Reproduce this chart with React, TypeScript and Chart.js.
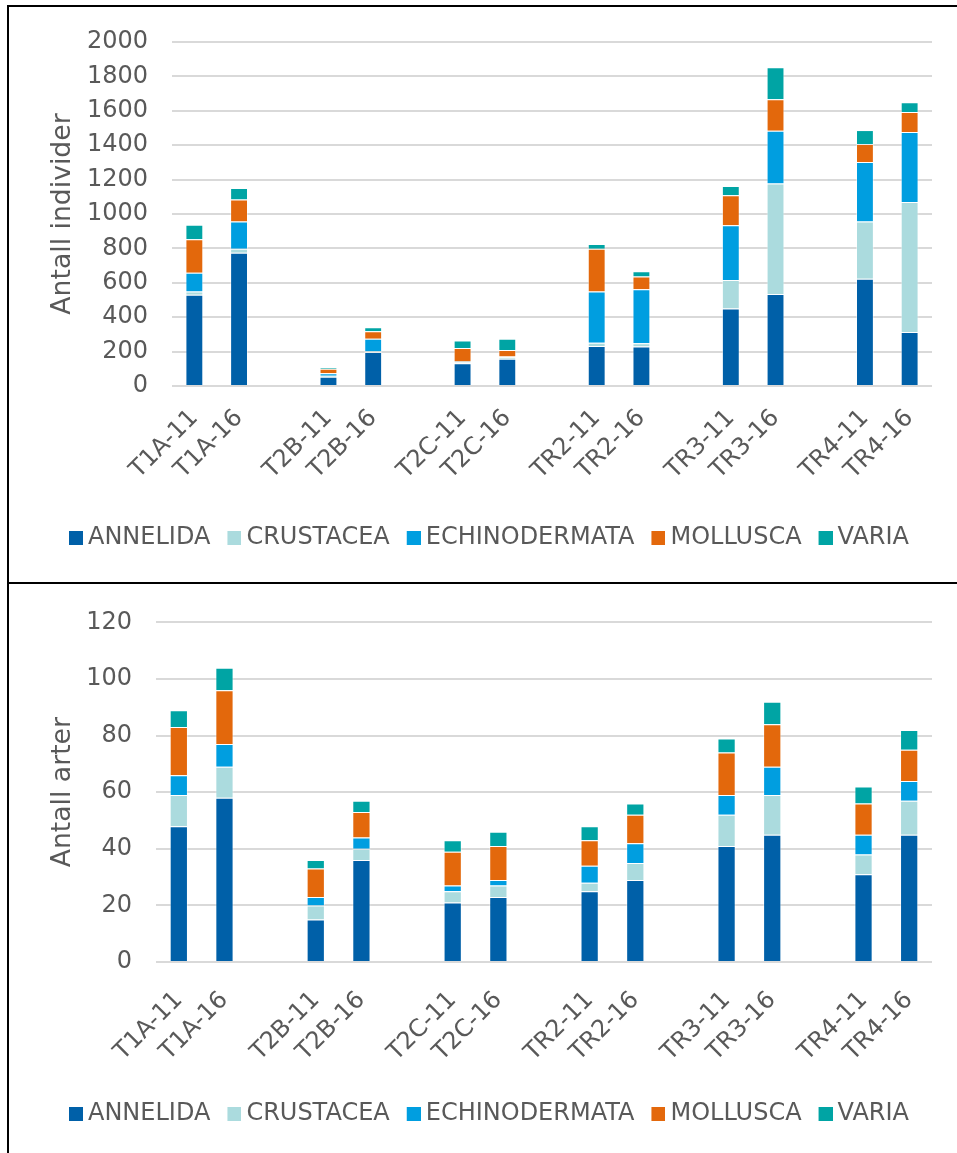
import React, { useEffect, useRef } from 'react';
import { Chart, registerables } from 'chart.js';

Chart.register(...registerables);

const FONT = "'DejaVu Sans', Verdana, sans-serif";
const TEXT_COLOR = '#595959';

const categories = [
  'T1A-11', 'T1A-16', '',
  'T2B-11', 'T2B-16', '',
  'T2C-11', 'T2C-16', '',
  'TR2-11', 'TR2-16', '',
  'TR3-11', 'TR3-16', '',
  'TR4-11', 'TR4-16',
];

const seriesNames = ['ANNELIDA', 'CRUSTACEA', 'ECHINODERMATA', 'MOLLUSCA', 'VARIA'];
const seriesColors = ['#0060A8', '#ABDBDE', '#009EE0', '#E3680C', '#00A4A4'];

// Antall individer
const indAnnelida = [531, 775, null, 54, 198, null, 132, 159, null, 233, 229, null, 450, 535, null, 624, 314];
const indCrustacea = [19, 23, null, 6, 4, null, 7, 8, null, 19, 19, null, 166, 643, null, 333, 756];
const indEchinodermata = [109, 159, null, 14, 73, null, 4, 4, null, 298, 314, null, 318, 306, null, 345, 407];
const indMollusca = [194, 128, null, 27, 43, null, 78, 38, null, 248, 74, null, 175, 183, null, 105, 116];
const indVaria = [85, 66, null, 8, 23, null, 43, 66, null, 28, 31, null, 54, 186, null, 81, 56];

// Antall arter
const artAnnelida = [48, 58, null, 15, 36, null, 21, 23, null, 25, 29, null, 41, 45, null, 31, 45];
const artCrustacea = [11, 11, null, 5, 4, null, 4, 4, null, 3, 6, null, 11, 14, null, 7, 12];
const artEchinodermata = [7, 8, null, 3, 4, null, 2, 2, null, 6, 7, null, 7, 10, null, 7, 7];
const artMollusca = [17, 19, null, 10, 9, null, 12, 12, null, 9, 10, null, 15, 15, null, 11, 11];
const artVaria = [6, 8, null, 3, 4, null, 4, 5, null, 5, 4, null, 5, 8, null, 6, 7];

const indTitle = 'Antall individer';
const indMax = 2000;
const indStep = 200;

const artTitle = 'Antall arter';
const artMax = 120;
const artStep = 20;

function makeSwatch(color: string) {
  const c = document.createElement('canvas');
  c.width = 21;
  c.height = 14;
  const g = c.getContext('2d');
  if (g) {
    g.fillStyle = color;
    g.fillRect(7, 0, 14, 14);
  }
  return c;
}

function buildConfig(
  values: (number | null)[][],
  yMax: number,
  yStep: number,
  yTitle: string,
  layout: { padLeft: number; padTop: number; padBottom: number; yWidth: number; xPad: number; xHeight: number },
) {
  const swatches = seriesColors.map(makeSwatch);
  return {
    type: 'bar' as const,
    data: {
      labels: categories,
      datasets: seriesNames.map((name, i) => ({
        label: name,
        data: values[i],
        backgroundColor: seriesColors[i],
        borderColor: 'rgba(255,255,255,0.45)',
        borderWidth: 1,
        barPercentage: 0.4,
        categoryPercentage: 1,
      })),
    },
    options: {
      responsive: false,
      animation: false,
      events: [],
      layout: {
        padding: { left: layout.padLeft, right: 25, top: layout.padTop, bottom: layout.padBottom },
      },
      plugins: {
        tooltip: { enabled: false },
        legend: {
          position: 'bottom',
          labels: {
            usePointStyle: true,
            pointStyleWidth: 7,
            padding: 17,
            color: TEXT_COLOR,
            font: { size: 24, family: FONT },
            generateLabels: () =>
              seriesNames.map((n, i) => ({
                text: n,
                pointStyle: swatches[i],
                fillStyle: seriesColors[i],
                strokeStyle: seriesColors[i],
                lineWidth: 0,
                hidden: false,
                datasetIndex: i,
                fontColor: TEXT_COLOR,
              })),
          },
        },
      },
      scales: {
        x: {
          stacked: true,
          grid: { display: false },
          border: { display: false },
          ticks: {
            autoSkip: false,
            minRotation: 45,
            maxRotation: 45,
            padding: layout.xPad,
            color: TEXT_COLOR,
            font: { size: 24, family: FONT },
          },
          afterFit: (s: any) => {
            s.height = layout.xHeight;
          },
        },
        y: {
          stacked: true,
          min: 0,
          max: yMax,
          ticks: {
            stepSize: yStep,
            padding: 24,
            color: TEXT_COLOR,
            font: { size: 24, family: FONT },
            callback: (v: any) => String(v),
          },
          grid: { color: '#d9d9d9', lineWidth: 2, drawTicks: false },
          border: { display: false },
          title: {
            display: true,
            text: yTitle,
            color: TEXT_COLOR,
            font: { size: 26.67, family: FONT, lineHeight: 0.6 },
            padding: { top: 9, bottom: 0 },
          },
          afterFit: (s: any) => {
            s.width = layout.yWidth;
          },
        },
      },
    },
  };
}

export default function App() {
  const ref1 = useRef<HTMLCanvasElement>(null);
  const ref2 = useRef<HTMLCanvasElement>(null);

  useEffect(() => {
    Chart.defaults.font.family = FONT;
    const c1 = new Chart(
      ref1.current as HTMLCanvasElement,
      buildConfig(
        [indAnnelida, indCrustacea, indEchinodermata, indMollusca, indVaria],
        indMax,
        indStep,
        indTitle,
        { padLeft: 46, padTop: 42, padBottom: 22, yWidth: 126, xPad: 10, xHeight: 123 },
      ) as any,
    );
    const c2 = new Chart(
      ref2.current as HTMLCanvasElement,
      buildConfig(
        [artAnnelida, artCrustacea, artEchinodermata, artMollusca, artVaria],
        artMax,
        artStep,
        artTitle,
        { padLeft: 46, padTop: 34, padBottom: 17, yWidth: 110, xPad: 16, xHeight: 123 },
      ) as any,
    );
    return () => {
      c1.destroy();
      c2.destroy();
    };
  }, []);

  return (
    <div
      style={{
        position: 'absolute',
        left: 0,
        top: 0,
        width: 957,
        height: 1153,
        overflow: 'hidden',
        background: '#ffffff',
      }}
    >
      <canvas ref={ref1} width={957} height={582} style={{ position: 'absolute', left: 0, top: 0 }} />
      <canvas ref={ref2} width={957} height={569} style={{ position: 'absolute', left: 0, top: 584 }} />
      <div
        style={{
          position: 'absolute',
          left: 7,
          top: 5,
          width: 1000,
          height: 579,
          borderTop: '2px solid #000',
          borderLeft: '2px solid #000',
          borderBottom: '2px solid #000',
          boxSizing: 'border-box',
          pointerEvents: 'none',
        }}
      />
      <div
        style={{
          position: 'absolute',
          left: 7,
          top: 582,
          width: 1000,
          height: 600,
          borderLeft: '2px solid #000',
          boxSizing: 'border-box',
          pointerEvents: 'none',
        }}
      />
    </div>
  );
}
